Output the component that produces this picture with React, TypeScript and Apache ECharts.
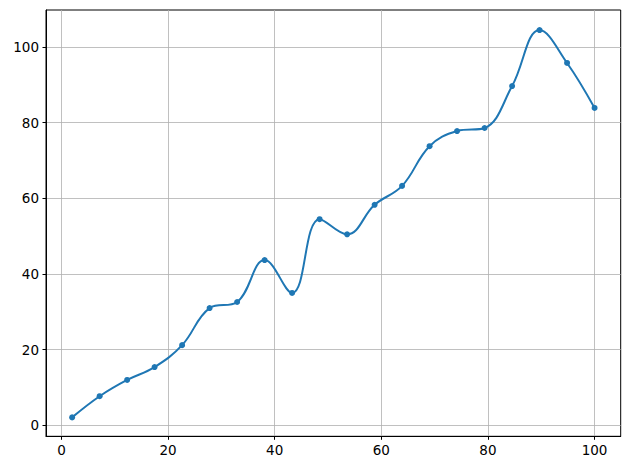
import React, { useEffect, useRef } from "react";
import * as echarts from "echarts";

const xValues = [2, 7.16, 12.32, 17.47, 22.63, 27.79, 32.95, 38.11, 43.26, 48.42, 53.58, 58.74, 63.89, 69.05, 74.21, 79.37, 84.53, 89.68, 94.84, 100];
const yValues = [2.1, 7.7, 12.0, 15.4, 21.2, 31.0, 32.6, 43.7, 35.0, 54.5, 50.5, 58.3, 63.3, 73.8, 77.8, 78.6, 89.7, 104.5, 95.8, 83.9];
const xTicks = [0, 20, 40, 60, 80, 100];
const yTicks = [0, 20, 40, 60, 80, 100];

export default function App() {
  const ref = useRef<HTMLDivElement>(null);
  useEffect(() => {
    if (!ref.current) return;
    const chart = echarts.init(ref.current, null, { renderer: "svg" });
    const data = xValues.map((x, i) => [x, yValues[i]]);
    const axisCommon = {
      axisLine: { show: true, onZero: false, lineStyle: { color: "#000", width: 1 } },
      axisTick: { show: true, length: 3.5, inside: false, lineStyle: { color: "#000", width: 1 } },
      axisLabel: { color: "#000", fontSize: 13.5, fontFamily: "DejaVu Sans", margin: 7 },
      splitLine: { show: true, lineStyle: { color: "#b0b0b0", width: 0.8 } },
    };
    chart.setOption({
      animation: false,
      backgroundColor: "#fff",
      grid: {
        left: 46, top: 10, right: 9.3, bottom: 33.7,
        show: true, borderColor: "#000", borderWidth: 1, containLabel: false,
      },
      xAxis: {
        type: "value", min: -2.9, max: 104.9,
        ...axisCommon,
        axisTick: { ...axisCommon.axisTick, customValues: xTicks },
        axisLabel: { ...axisCommon.axisLabel, customValues: xTicks },
      },
      yAxis: {
        type: "value", min: -2.9, max: 109.8,
        ...axisCommon,
        axisTick: { ...axisCommon.axisTick, customValues: yTicks },
        axisLabel: { ...axisCommon.axisLabel, customValues: yTicks },
      },
      series: [
        {
          type: "line",
          data,
          smooth: 0.4,
          symbol: "circle",
          symbolSize: 6,
          showAllSymbol: true,
          lineStyle: { color: "#1f77b4", width: 2 },
          itemStyle: { color: "#1f77b4" },
        },
      ],
    });
    return () => chart.dispose();
  }, []);
  return <div ref={ref} style={{ width: 630, height: 470, position: "absolute", left: 0, top: 0 }} />;
}
